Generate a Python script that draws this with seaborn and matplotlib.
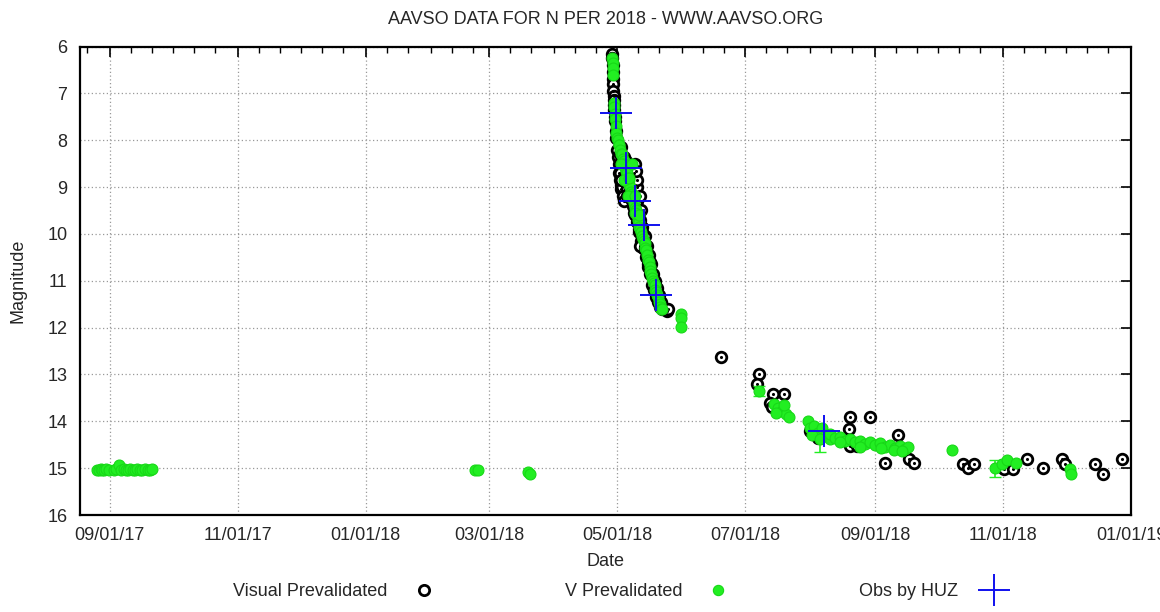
import pandas as pd
import matplotlib
matplotlib.use('Agg')
import matplotlib.pyplot as plt
import matplotlib.dates as mdates
from matplotlib.lines import Line2D
import seaborn as sns

# days counted from 2018-01-01
t0 = pd.Timestamp('2018-01-01')

# Visual prevalidated (black)
vis_day = [117.6, 117.7, 117.8, 117.9, 118.0, 118.1, 118.2, 118.3, 118.4, 118.5,
           118.6, 118.8, 119.0, 119.3, 119.6, 120.0, 120.3, 120.6, 121.0, 121.3,
           121.6, 122.0, 122.3, 122.6, 123.0, 121.5, 122.0, 122.5, 123.0, 123.5,
           124.0, 124.5, 125.0, 125.5, 126.0, 126.5, 127.0, 127.5, 128.0, 128.5,
           129.0, 129.5, 130.0, 130.5, 131.0, 131.5, 132.0, 132.5, 133.0, 133.5,
           134.0, 134.5, 135.0, 135.5, 136.0, 136.5, 137.0, 137.5, 138.0, 138.5,
           139.0, 139.5, 140.0, 140.5, 141.0, 141.5, 142.0, 143.5, 144.0,
           128.0, 129.3, 129.6, 130.2,
           121.2, 121.3, 121.6, 128.5, 129.5, 129.0, 124.5, 131.0, 127.8, 131.5,
           130.2, 132.0, 131.0, 133.4, 134.8, 135.8,
           169.5, 187.4, 186.6, 194.3, 199.3, 192.7, 193.8, 212.0, 215.9, 230.3,
           231.1, 240.6, 231.1, 234.3, 254.1, 247.8, 258.9, 261.3, 284.8, 287.3,
           289.9, 304.2, 308.6, 315.6, 323.2, 332.0, 333.6, 347.9, 351.5, 360.6]
vis_mag = [6.15, 6.25, 6.4, 6.55, 6.7, 6.8, 6.95, 7.05, 7.15, 7.25,
           7.35, 7.5, 7.6, 7.8, 7.95, 8.2, 8.35, 8.5, 8.7, 8.85,
           8.95, 9.05, 9.0, 9.2, 9.3, 8.3, 8.15, 8.5, 8.35, 8.8,
           8.45, 8.9, 8.6, 9.1, 8.8, 9.25, 9.0, 9.4, 9.1, 9.6,
           9.35, 9.75, 9.5, 9.95, 9.7, 10.15, 9.85, 10.3, 10.05, 10.5,
           10.25, 10.7, 10.45, 10.85, 10.65, 11.1, 10.85, 11.2, 11.0, 11.35,
           11.15, 11.45, 11.3, 11.55, 11.45, 11.6, 11.55, 11.65, 11.6,
           8.7, 9.0, 9.3, 9.55,
           8.5, 8.7, 8.85, 8.5, 8.85, 8.65, 9.2, 9.2, 9.55, 9.5,
           9.9, 9.95, 10.25, 10.3, 10.65, 10.6,
           12.62, 13.0, 13.2, 13.41, 13.41, 13.62, 13.7, 14.2, 14.35, 14.17,
           13.91, 13.91, 14.53, 14.53, 14.3, 14.88, 14.81, 14.9, 14.92, 15.0,
           14.92, 15.02, 15.02, 14.81, 15.0, 14.81, 14.92, 14.92, 15.12, 14.81]

# V prevalidated (green)
v_day = [-128.2, -127.3, -126.4, -125.5, -124.6, -123.7, -122.5, -120.2, -119.2, -117.5,
         -116.5, -115.4, -114.5, -113.3, -112.2, -111.0, -110.0, -108.8, -107.6, -106.5,
         -105.2, -104.0, -102.8, -101.7,
         52.0, 53.4, 77.3, 78.6,
         117.7, 117.9, 118.0, 118.1, 118.3, 118.5, 118.7, 119.0, 119.3, 119.6,
         119.9, 120.3, 120.6, 121.0, 121.4, 121.8, 122.2, 122.6, 123.0, 123.4,
         123.8, 124.2, 124.6, 125.0, 125.4, 125.8, 126.2, 126.6, 127.0, 127.4,
         127.8, 128.2, 128.6, 129.0, 129.4, 129.8, 130.2, 130.6, 131.0, 131.4,
         131.8, 132.2, 132.6, 133.0, 133.4, 133.8, 134.2, 134.6, 135.0, 135.4,
         135.8, 136.2, 136.6, 137.0, 137.4, 137.8, 138.2, 138.6, 139.0, 139.4,
         139.8, 140.2, 140.6, 141.0, 141.4,
         122.0, 127.0, 123.0, 125.8, 125.3, 128.7, 128.5, 130.2,
         150.4, 150.6, 150.3, 187.7, 194.9, 196.8, 198.7, 200.6, 202.0, 195.9,
         199.7, 211.1, 212.1, 214.0, 215.9, 217.8, 219.7, 221.6, 213.1, 216.5,
         221.6, 223.9, 226.3, 228.7, 231.1, 233.5, 235.9, 238.2, 240.6, 243.0,
         245.4, 247.8, 250.2, 252.5, 254.9, 257.0, 258.7, 226.0, 236.0, 246.0,
         252.0, 256.0,
         279.6, 300.2, 303.4, 306.0, 310.2, 336.0, 336.2]
v_mag = [15.03, 15.03, 15.02, 15.03, 15.03, 15.02, 15.03, 15.03, 15.02, 14.93,
         15.03, 15.02, 15.03, 15.03, 15.02, 15.03, 15.03, 15.02, 15.03, 15.03,
         15.02, 15.03, 15.03, 15.02,
         15.03, 15.05, 15.08, 15.12,
         6.25, 6.35, 6.45, 6.6, 7.2, 7.3, 7.45, 7.55, 7.7, 7.85,
         7.95, 8.0, 8.1, 8.1, 8.2, 8.3, 8.3, 8.4, 8.45, 8.5,
         8.6, 8.65, 8.7, 8.8, 8.85, 8.95, 9.0, 9.1, 9.15, 9.2,
         9.3, 9.35, 9.45, 9.5, 9.6, 9.7, 9.75, 9.85, 9.9, 9.95,
         10.05, 10.1, 10.15, 10.2, 10.3, 10.35, 10.45, 10.55, 10.6, 10.7,
         10.8, 10.85, 10.95, 11.0, 11.05, 11.1, 11.2, 11.25, 11.3, 11.35,
         11.45, 11.5, 11.55, 11.6, 11.6,
         8.5, 8.5, 8.85, 8.8, 9.2, 9.2, 9.55, 9.6,
         11.7, 11.8, 11.98, 13.35, 13.63, 13.72, 13.78, 13.85, 13.9, 13.82,
         13.65, 14.0, 14.15, 14.1, 14.25, 14.15, 14.3, 14.38, 14.3, 14.38,
         14.27, 14.35, 14.33, 14.41, 14.38, 14.45, 14.41, 14.49, 14.45, 14.51,
         14.47, 14.55, 14.5, 14.57, 14.53, 14.6, 14.55, 14.45, 14.55, 14.57,
         14.62, 14.63,
         14.62, 15.0, 14.92, 14.82, 14.9, 15.02, 15.12]

# V points drawn with error bars
verr_day = [187.7, 216.5, 300.2]
verr_mag = [13.35, 14.4, 15.0]
verr_size = [0.1, 0.25, 0.18]

# Obs by HUZ
huz_day = [119.6, 124.4, 128.7, 132.6, 138.7, 218.4]
huz_mag = [7.41, 8.6, 9.3, 9.81, 11.3, 14.2]


def to_date(days):
    return t0 + pd.to_timedelta(days, unit='D')


vis = pd.DataFrame({'date': to_date(vis_day), 'mag': vis_mag})
vband = pd.DataFrame({'date': to_date(v_day), 'mag': v_mag})
huz = pd.DataFrame({'date': to_date(huz_day), 'mag': huz_mag})

sns.set_style('white')
plt.rcParams['font.family'] = ['Liberation Sans', 'DejaVu Sans']
plt.rcParams['font.size'] = 13

green = '#22ee22'
blue = '#1010ee'

fig = plt.figure(figsize=(11.6, 6.12), dpi=100)
ax = fig.add_axes([80 / 1160, 97 / 612, 1051 / 1160, 468.5 / 612])

sns.scatterplot(data=vis, x='date', y='mag', ax=ax, marker='o', s=58,
                facecolor='white', edgecolor='black', linewidth=2.0, legend=False, zorder=3)
sns.scatterplot(data=vis, x='date', y='mag', ax=ax, marker='o', s=5,
                color='black', linewidth=0, legend=False, zorder=3)
ax.errorbar(to_date(verr_day), verr_mag, yerr=verr_size, fmt='none',
            ecolor=green, elinewidth=1.2, capsize=4, zorder=4)
sns.scatterplot(data=vband, x='date', y='mag', ax=ax, marker='o', s=62,
                color=green, edgecolor='#18d818', linewidth=0.8, legend=False, zorder=5)
sns.scatterplot(data=huz, x='date', y='mag', ax=ax, marker='+', s=560,
                color=blue, linewidth=1.4, legend=False, zorder=6)

ax.set_ylim(16, 6)
ax.set_yticks(range(6, 17))
ax.set_xlim(t0 - pd.Timedelta(days=136.2), pd.Timestamp('2019-01-01'))
ax.xaxis.set_major_locator(mdates.MonthLocator(bymonth=[1, 3, 5, 7, 9, 11]))
ax.xaxis.set_minor_locator(mdates.MonthLocator(bymonthday=[1, 11, 21]))
ax.xaxis.set_major_formatter(mdates.DateFormatter('%m/%d/%y'))

ax.grid(True, which='major', color='#999999', linestyle=(0, (1, 2)), linewidth=0.9)
ax.tick_params(which='both', direction='in', top=True, right=True, color='black')
ax.tick_params(which='major', length=7, width=1.2, labelsize=13, pad=9)
ax.tick_params(which='minor', length=4, width=1.0)
for sp in ax.spines.values():
    sp.set_color('black')
    sp.set_linewidth(1.6)

ax.set_xlabel('Date', fontsize=13, labelpad=6)
ax.set_ylabel('Magnitude', fontsize=13, labelpad=15)
ax.set_title('AAVSO DATA FOR N PER 2018 - WWW.AAVSO.ORG', fontsize=13, pad=16)

handles = [
    Line2D([], [], linestyle='none', marker='o', markersize=7.4, markerfacecolor='white',
           markeredgecolor='black', markeredgewidth=2.0),
    Line2D([], [], linestyle='none', marker='o', markersize=7.4, markerfacecolor=green,
           markeredgecolor='#18d818', markeredgewidth=0.8),
    Line2D([], [], linestyle='none', marker='+', markersize=23, markeredgecolor=blue,
           markeredgewidth=1.4),
]
labels = ['Visual Prevalidated', 'V Prevalidated', 'Obs by HUZ']
fig.legend(handles, labels, loc='center', bbox_to_anchor=(623 / 1160, 1 - 592 / 612),
           ncol=3, markerfirst=False, frameon=False, fontsize=13,
           handlelength=2.0, handletextpad=1.0, columnspacing=6.8)

fig.savefig('out.png', dpi=100)
